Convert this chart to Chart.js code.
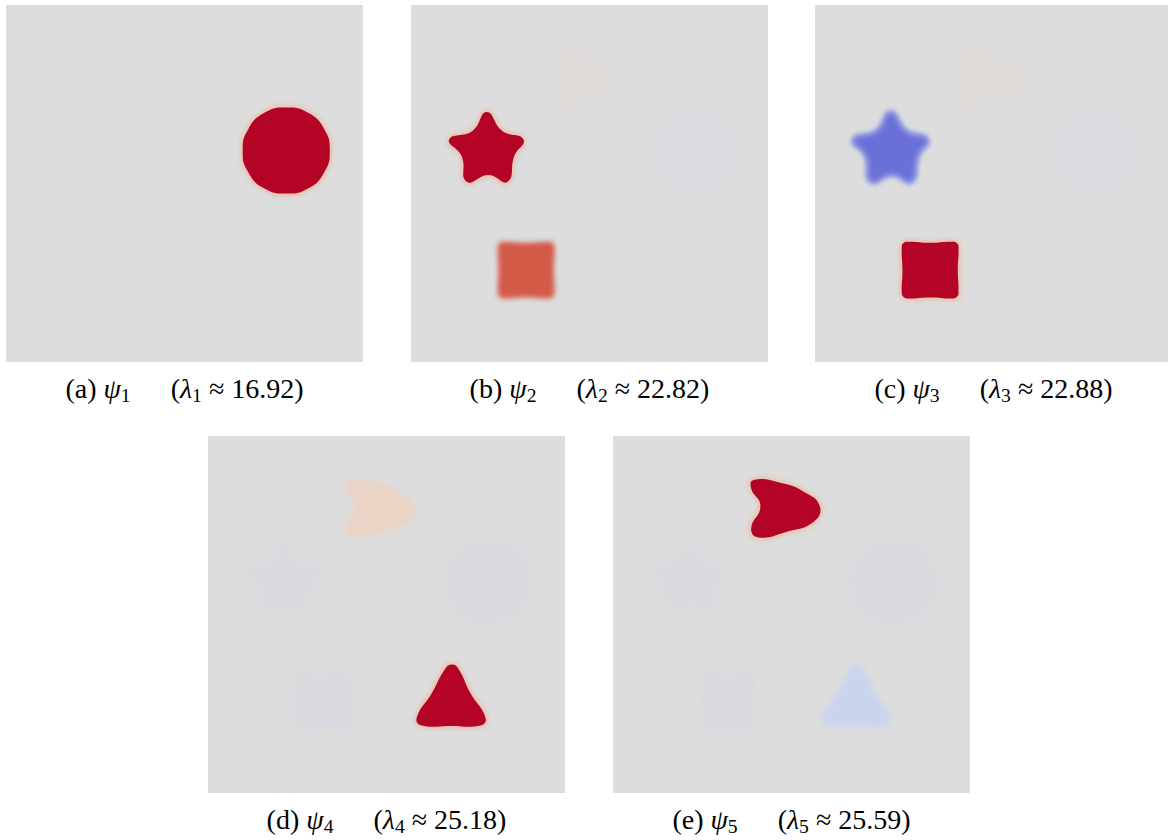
<!DOCTYPE html>
<html>
<head>
<meta charset="utf-8">
<script src="https://cdn.jsdelivr.net/npm/chart.js@4.4.1/dist/chart.umd.min.js"></script>
<style>
    body {
        margin: 0;
        width: 1168px;
        height: 840px;
        position: relative;
        overflow: hidden;
        background: #ffffff;
        font-family: 'Liberation Serif', 'DejaVu Serif', serif;
    }
    .panel {
        position: absolute;
        width: 357px;
        height: 357px;
    }
    .cap {
        position: absolute;
        width: 357px;
        text-align: center;
        font-size: 28px;
        line-height: 30px;
        color: #000;
        white-space: nowrap;
    }
    .cap sub {
        font-size: 0.7em;
        vertical-align: -0.22em;
        line-height: 0;
    }
    .cap .gap {
        display: inline-block;
        width: 40px;
    }
</style>
</head>
<body>
<div id="root"></div>
<script>
// Outlines of the five regions, in panel units (0..100, y up)
const circleX = [90.7, 89.1, 84.6, 78.5, 72.4, 67.9, 66.3, 67.9, 72.4, 78.5, 84.6, 89.1];
const circleY = [59.2, 65.3, 69.8, 71.3, 69.8, 65.3, 59.2, 53.1, 48.6, 47.2, 48.6, 53.1];

const starX = [21.2, 17.3, 10.7, 14.2, 15.6, 21.7, 27.1, 28.9, 31.5, 25.5];
const starY = [70.0, 64.8, 62.3, 57.6, 50.5, 52.4, 50.5, 57.6, 62.3, 64.8];

const squareX = [25.8, 32.2, 38.7, 39.75, 40.2, 40.0, 40.2, 39.75, 38.7, 32.2, 25.8, 24.75, 24.3, 24.5, 24.3, 24.75];
const squareY = [17.8, 18.1, 17.8, 18.25, 19.3, 25.7, 32.2, 33.25, 33.7, 33.4, 33.7, 33.25, 32.2, 25.7, 19.3, 18.25];

const triangleX = [68.3, 66.6, 62.6, 58.5, 59.6, 68.0, 76.6, 77.7, 73.6, 70.0];
const triangleY = [36.0, 35.0, 27.8, 21.2, 19.0, 18.8, 19.0, 21.2, 27.8, 35.0];

const topX = [39.4, 46.9, 53.4, 57.9, 56.2, 48.7, 40.8, 38.7, 41.3, 38.7];
const topY = [87.7, 86.9, 84.4, 80.4, 76.0, 73.2, 71.6, 74.1, 80.4, 85.3];

// Captions
const panelTags = ['a', 'b', 'c', 'd', 'e'];
const modeIndex = [1, 2, 3, 4, 5];
const lambdas = ['16.92', '22.82', '22.88', '25.18', '25.59'];

const shapes = {
    circle: [circleX, circleY],
    star: [starX, starY],
    square: [squareX, squareY],
    triangle: [triangleX, triangleY],
    top: [topX, topY]
};

// Layout
const panelLeft = [6, 411, 815, 208, 613];
const panelTop = [5, 5, 5, 436, 436];

const RED = '#b40426';
const RED_GLOW = 'rgba(245, 165, 125, 0.6)';

// How each region is painted in each panel
const panelStyles = [
    [
        { shape: 'star', color: '#dbdbdd', blur: 2.5 },
        { shape: 'square', color: '#dbdbdd', blur: 2.5 },
        { shape: 'triangle', color: '#dcdcdc', blur: 2.5 },
        { shape: 'top', color: '#dcdcdc', blur: 2.5 },
        { shape: 'circle', color: RED, blur: 0.6, glow: RED_GLOW }
    ],
    [
        { shape: 'circle', color: '#dadbde', blur: 3 },
        { shape: 'top', color: '#dfdcda', blur: 2.5 },
        { shape: 'triangle', color: '#dedcda', blur: 2.5 },
        { shape: 'square', color: '#d45a48', blur: 2.5 },
        { shape: 'star', color: RED, blur: 0.6, glow: RED_GLOW }
    ],
    [
        { shape: 'circle', color: '#dadbde', blur: 3 },
        { shape: 'top', color: '#dfdcd9', blur: 2.5 },
        { shape: 'triangle', color: '#dedcda', blur: 2.5 },
        { shape: 'star', color: '#6b70d9', blur: 2.5, glow: 'rgba(140, 160, 240, 0.7)' },
        { shape: 'square', color: RED, blur: 0.6, glow: RED_GLOW }
    ],
    [
        { shape: 'circle', color: '#d9dadf', blur: 3 },
        { shape: 'star', color: '#d9dadf', blur: 2.5 },
        { shape: 'square', color: '#d9dadf', blur: 2.5 },
        { shape: 'top', color: '#ebd3c5', blur: 2.5 },
        { shape: 'triangle', color: RED, blur: 0.6, glow: RED_GLOW }
    ],
    [
        { shape: 'circle', color: '#d9dadf', blur: 3 },
        { shape: 'star', color: '#d9dadf', blur: 2.5 },
        { shape: 'square', color: '#d9dadf', blur: 2.5 },
        { shape: 'triangle', color: '#c9d5ee', blur: 2.5 },
        { shape: 'top', color: RED, blur: 0.6, glow: RED_GLOW }
    ]
];

// Wrap the outline so every drawn point has both neighbours
function outline(name) {
    const [xs, ys] = shapes[name];
    const pts = xs.map((x, i) => ({ x: x, y: ys[i] }));
    return [pts[pts.length - 1], ...pts, pts[0], pts[1]];
}

const backgroundPlugin = {
    id: 'panelBackground',
    beforeDraw(chart) {
        const { ctx, chartArea } = chart;
        ctx.save();
        ctx.fillStyle = '#dddddd';
        ctx.fillRect(chartArea.left, chartArea.top, chartArea.right - chartArea.left, chartArea.bottom - chartArea.top);
        ctx.restore();
    }
};

// Closed smooth path through the points Chart.js placed
function tracePath(ctx, pts) {
    ctx.beginPath();
    ctx.moveTo(pts[1].x, pts[1].y);
    for (let i = 2; i < pts.length - 1; i++) {
        const a = pts[i - 1];
        const b = pts[i];
        ctx.bezierCurveTo(a.cp2x, a.cp2y, b.cp1x, b.cp1y, b.x, b.y);
    }
    ctx.closePath();
}

const regionPlugin = {
    id: 'regionFill',
    beforeDatasetDraw(chart, args) {
        const ds = chart.data.datasets[args.index];
        const line = args.meta.dataset;
        if (!line) return;
        line.updateControlPoints(chart.chartArea, 'x');
        const pts = args.meta.data;
        const ctx = chart.ctx;
        ctx.save();
        if (ds.glow) {
            ctx.filter = 'blur(2px)';
            tracePath(ctx, pts);
            ctx.strokeStyle = ds.glow;
            ctx.lineWidth = 4;
            ctx.stroke();
        }
        ctx.filter = 'blur(' + ds.blur + 'px)';
        tracePath(ctx, pts);
        ctx.fillStyle = ds.regionColor;
        ctx.fill();
        ctx.restore();
    }
};

function makePanel(i) {
    const root = document.getElementById('root');

    const wrap = document.createElement('div');
    wrap.className = 'panel';
    wrap.style.left = panelLeft[i] + 'px';
    wrap.style.top = panelTop[i] + 'px';
    const canvas = document.createElement('canvas');
    canvas.width = 357;
    canvas.height = 357;
    wrap.appendChild(canvas);
    root.appendChild(wrap);

    const cap = document.createElement('div');
    cap.className = 'cap';
    cap.style.left = panelLeft[i] + 'px';
    cap.style.top = (panelTop[i] + 369) + 'px';
    const k = modeIndex[i];
    cap.innerHTML = `(${panelTags[i]}) <i>ψ</i><sub>${k}</sub><span class="gap"></span>(<i>λ</i><sub>${k}</sub> ≈ ${lambdas[i]})`;
    root.appendChild(cap);

    const datasets = panelStyles[i].map(s => ({
        label: s.shape,
        data: outline(s.shape),
        regionColor: s.color,
        blur: s.blur,
        glow: s.glow || null,
        borderWidth: 0,
        pointRadius: 0,
        fill: false,
        tension: 0.5
    }));

    new Chart(canvas.getContext('2d'), {
        type: 'line',
        data: { datasets: datasets },
        options: {
            responsive: false,
            animation: false,
            events: [],
            layout: { padding: 0 },
            scales: {
                x: { type: 'linear', min: 0, max: 100, display: false },
                y: { type: 'linear', min: 0, max: 100, display: false }
            },
            plugins: {
                legend: { display: false },
                tooltip: { enabled: false }
            }
        },
        plugins: [backgroundPlugin, regionPlugin]
    });
}

panelTags.forEach((_, i) => makePanel(i));
</script>
</body>
</html>
